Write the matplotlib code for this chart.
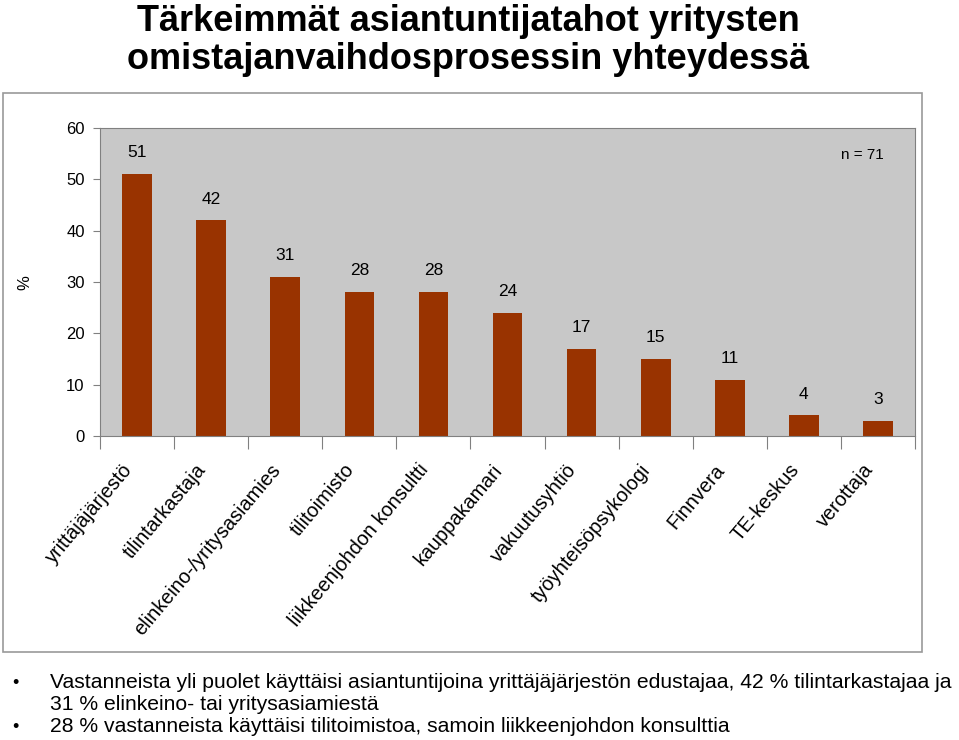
import numpy as np
import matplotlib
matplotlib.use('Agg')
from matplotlib import pyplot as plt
from matplotlib.patches import Rectangle

plt.rcParams['font.family'] = ['Liberation Sans', 'DejaVu Sans']

# data
categories = ['yrittäjäjärjestö', 'tilintarkastaja', 'elinkeino-/yritysasiamies',
              'tilitoimisto', 'liikkeenjohdon konsultti', 'kauppakamari',
              'vakuutusyhtiö', 'työyhteisöpsykologi', 'Finnvera', 'TE-keskus', 'verottaja']
values = [51, 42, 31, 28, 28, 24, 17, 15, 11, 4, 3]
yticks = [0, 10, 20, 30, 40, 50, 60]

W, H = 959, 740
fig = plt.figure(figsize=(W / 100, H / 100), dpi=100)

# outer chart frame
fig.patches.append(Rectangle((3 / W, 1 - 652 / H), 919 / W, 559 / H, transform=fig.transFigure,
                             facecolor='white', edgecolor='#999999', linewidth=1.2, zorder=-5))

ax = fig.add_axes([100 / W, 1 - 436 / H, 815 / W, 308 / H])
ax.set_zorder(1)
ax.set_facecolor('#C8C8C8')
x = np.arange(len(categories))
ax.bar(x, values, width=0.4, color='#993300', zorder=2)
for xi, v in zip(x, values):
    ax.text(xi, v + 2.7, str(v), ha='center', va='bottom', fontsize=12.5)

ax.set_xlim(-0.5, len(categories) - 0.5)
ax.set_ylim(0, 60)
ax.set_yticks(yticks)
ax.tick_params(axis='y', labelsize=12, length=5, color='#808080', pad=6)
ax.set_xticks(np.arange(len(categories) + 1) - 0.5)
ax.set_xticklabels([])
ax.tick_params(axis='x', length=9, color='#808080', direction='out')
for s in ax.spines.values():
    s.set_color('#808080')

for xi, lab in zip(x, categories):
    ax.annotate(lab, xy=(xi, 0), xycoords=('data', 'axes fraction'),
                xytext=(-6, -22), textcoords='offset points',
                rotation=50, rotation_mode='anchor', ha='right', va='center',
                fontsize=14.3)

fig.text(25 / W, 1 - 283 / H, '%', rotation=90, ha='center', va='center', fontsize=12)

fig.text(468 / W, 1 - 31 / H, 'Tärkeimmät asiantuntijatahot yritysten', ha='center', va='baseline',
         fontsize=26, fontweight='bold')
fig.text(468 / W, 1 - 69 / H, 'omistajanvaihdosprosessin yhteydessä', ha='center', va='baseline',
         fontsize=26, fontweight='bold')
fig.text(862 / W, 1 - 155 / H, 'n = 71', ha='center', va='center', fontsize=11)

fig.text(12 / W, 1 - 683 / H, '•', ha='left', va='center', fontsize=13)
fig.text(50 / W, 1 - 683 / H, 'Vastanneista yli puolet käyttäisi asiantuntijoina yrittäjäjärjestön edustajaa, 42 % tilintarkastajaa ja',
         ha='left', va='center', fontsize=15.2)
fig.text(50 / W, 1 - 704 / H, '31 % elinkeino- tai yritysasiamiestä', ha='left', va='center', fontsize=15.2)
fig.text(12 / W, 1 - 727 / H, '•', ha='left', va='center', fontsize=13)
fig.text(50 / W, 1 - 727 / H, '28 % vastanneista käyttäisi tilitoimistoa, samoin liikkeenjohdon konsulttia',
         ha='left', va='center', fontsize=15.2)

fig.savefig('out.png', dpi=100)
